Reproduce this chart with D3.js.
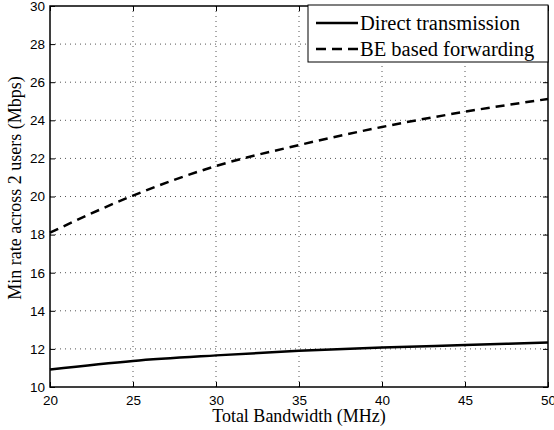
<!DOCTYPE html>
<html>
<head>
<meta charset="utf-8">
<script src="https://cdn.jsdelivr.net/npm/d3@7"></script>
<style>
  body { margin: 0; background: #fff; }
  svg { display: block; }
</style>
</head>
<body>
<div id="chart"></div>
<script>
// values
const bandwidth = [20, 25, 30, 35, 40, 45, 50];
const directRate = [10.92, 11.37, 11.66, 11.9, 12.07, 12.2, 12.33];
const forwardRate = [18.1, 20.05, 21.6, 22.7, 23.65, 24.45, 25.12];
const xTicks = [20, 25, 30, 35, 40, 45, 50];
const yTicks = [10, 12, 14, 16, 18, 20, 22, 24, 26, 28, 30];
const seriesNames = ["Direct transmission", "BE based forwarding"];

const width = 554, height = 430;
const margin = { top: 6, right: 6, bottom: 43, left: 50 };
const innerW = width - margin.left - margin.right;
const innerH = height - margin.top - margin.bottom;

const svg = d3.select("#chart").append("svg")
    .attr("width", width)
    .attr("height", height);

const g = svg.append("g")
    .attr("transform", `translate(${margin.left},${margin.top})`);

const x = d3.scaleLinear().domain([20, 50]).range([0, innerW]);
const y = d3.scaleLinear().domain([10, 30]).range([innerH, 0]);

// dotted grid
g.append("g")
    .selectAll("line")
    .data(xTicks.slice(1, -1))
    .enter().append("line")
    .attr("x1", d => x(d)).attr("x2", d => x(d))
    .attr("y1", 0).attr("y2", innerH)
    .attr("stroke", "#555")
    .attr("stroke-width", 1)
    .attr("stroke-dasharray", "1,4");

g.append("g")
    .selectAll("line")
    .data(yTicks.slice(1, -1))
    .enter().append("line")
    .attr("x1", 0).attr("x2", innerW)
    .attr("y1", d => y(d)).attr("y2", d => y(d))
    .attr("stroke", "#555")
    .attr("stroke-width", 1)
    .attr("stroke-dasharray", "1,4");

// axes, ticks pointing inward on all sides
const tickFont = "'Liberation Sans', Arial, sans-serif";

const xAxis = g.append("g")
    .attr("transform", `translate(0,${innerH})`)
    .call(d3.axisBottom(x).tickValues(xTicks).tickSizeInner(-5).tickSizeOuter(0).tickPadding(8));
const yAxis = g.append("g")
    .call(d3.axisLeft(y).tickValues(yTicks).tickSizeInner(-5).tickSizeOuter(0).tickPadding(5));
const xTop = g.append("g")
    .call(d3.axisTop(x).tickValues(xTicks).tickSizeInner(-5).tickSizeOuter(0).tickFormat(""));
const yRight = g.append("g")
    .attr("transform", `translate(${innerW},0)`)
    .call(d3.axisRight(y).tickValues(yTicks).tickSizeInner(-5).tickSizeOuter(0).tickFormat(""));

[xAxis, yAxis, xTop, yRight].forEach(a => {
    a.select(".domain").remove();
    a.selectAll("line").attr("stroke", "#000");
    a.selectAll("text")
        .attr("fill", "#000")
        .style("font-family", tickFont)
        .style("font-size", "13.5px");
});

g.append("rect")
    .attr("width", innerW).attr("height", innerH)
    .attr("fill", "none")
    .attr("stroke", "#000")
    .attr("stroke-width", 1.5);

// series
const line = d3.line()
    .x((d, i) => x(bandwidth[i]))
    .y(d => y(d))
    .curve(d3.curveMonotoneX);

g.append("path")
    .datum(directRate)
    .attr("d", line)
    .attr("fill", "none")
    .attr("stroke", "#000")
    .attr("stroke-width", 2.5);

g.append("path")
    .datum(forwardRate)
    .attr("d", line)
    .attr("fill", "none")
    .attr("stroke", "#000")
    .attr("stroke-width", 2.5)
    .attr("stroke-dasharray", "9,6");

// axis labels
const labelFont = "'Liberation Serif', 'Times New Roman', serif";

svg.append("text")
    .attr("x", margin.left + innerW / 2)
    .attr("y", 422)
    .attr("text-anchor", "middle")
    .style("font-family", labelFont)
    .style("font-size", "18px")
    .text("Total Bandwidth (MHz)");

svg.append("text")
    .attr("transform", "translate(21,188) rotate(-90)")
    .attr("text-anchor", "middle")
    .style("font-family", labelFont)
    .style("font-size", "18px")
    .text("Min rate across 2 users (Mbps)");

// legend
const legW = 240, legH = 57;
const legend = g.append("g")
    .attr("transform", `translate(${innerW - legW},-1)`);

legend.append("rect")
    .attr("width", legW).attr("height", legH)
    .attr("fill", "#fff")
    .attr("stroke", "#000")
    .attr("stroke-width", 1);

const legRows = legend.selectAll("g.row")
    .data(seriesNames)
    .enter().append("g")
    .attr("class", "row")
    .attr("transform", (d, i) => `translate(0,${18 + i * 26})`);

legRows.append("line")
    .attr("x1", 8).attr("x2", 50)
    .attr("y1", 0).attr("y2", 0)
    .attr("stroke", "#000")
    .attr("stroke-width", 2.5)
    .attr("stroke-dasharray", (d, i) => i === 1 ? "10,6" : null);

legRows.append("text")
    .attr("x", 52)
    .attr("y", 0)
    .attr("dy", "0.33em")
    .style("font-family", labelFont)
    .style("font-size", "20.5px")
    .text(d => d);
</script>
</body>
</html>
